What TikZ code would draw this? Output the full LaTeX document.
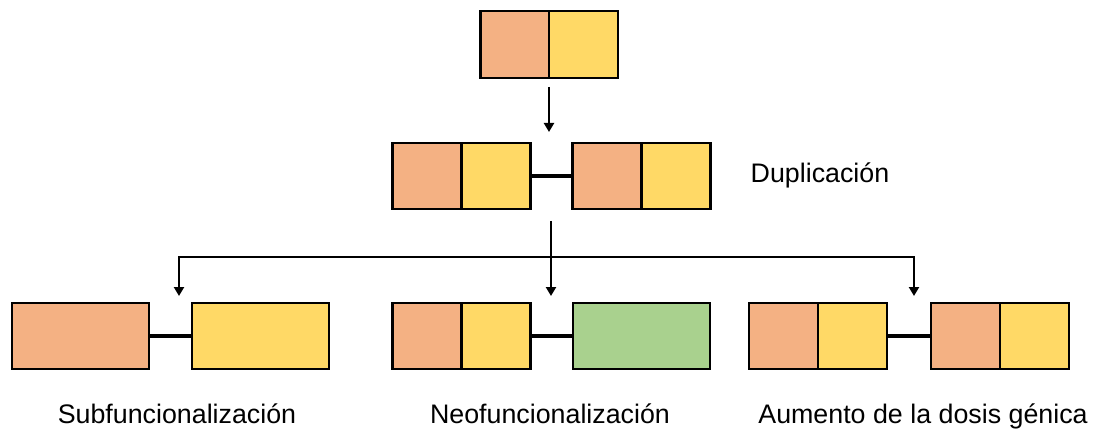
\documentclass[tikz,border=0pt]{standalone}
\usepackage{fontspec}
\setmainfont{Liberation Sans}
\usetikzlibrary{arrows.meta}
\definecolor{cor}{HTML}{F4B183}
\definecolor{cye}{HTML}{FFD966}
\definecolor{cgr}{HTML}{A9D18E}
\tikzset{
  gbox/.style={draw=black, line width=2.2pt, minimum height=66pt, inner sep=0pt, outer sep=0pt},
  half/.style={gbox, minimum width=69pt},
  full/.style={gbox, minimum width=137pt},
  link/.style={line width=3.5pt},
  arr/.style={line width=2.6pt, -{Triangle[length=9pt,width=10pt]}},
  trunk/.style={line width=2.6pt},
  lbl/.style={font=\fontsize{26.8}{32}\selectfont, anchor=base, inner sep=0pt}
}
\begin{document}
\begin{tikzpicture}[x=1pt,y=-1pt]
\useasboundingbox (0,0) rectangle (1096,433);
% top
\node[half, fill=cor, minimum height=67pt] (t1) at (515,44.5) {};
\node[half, fill=cye, minimum height=67pt] (t2) at (583.5,44.5) {};
% row 2
\node[half, fill=cor] (a1) at (427,176) {};
\node[half, fill=cye] (a2) at (496,176) {};
\node[half, fill=cor] (a3) at (607,176) {};
\node[half, fill=cye] (a4) at (676,176) {};
\draw[link] (a2.east) -- (a3.west);
\node[lbl, anchor=center] (dup) at (820,175) {Duplicación};
% row 3 left
\node[full, fill=cor] (s1) at (80.5,336) {};
\node[full, fill=cye] (s2) at (260.5,336) {};
\draw[link] (s1.east) -- (s2.west);
% row 3 middle
\node[half, fill=cor] (n1) at (427,336) {};
\node[half, fill=cye] (n2) at (496,336) {};
\node[full, fill=cgr] (n3) at (641.5,336) {};
\draw[link] (n2.east) -- (n3.west);
% row 3 right
\node[half, fill=cor] (d1) at (783.5,336) {};
\node[half, fill=cye] (d2) at (852.5,336) {};
\node[half, fill=cor] (d3) at (965.5,336) {};
\node[half, fill=cye] (d4) at (1034.5,336) {};
\draw[link] (d2.east) -- (d3.west);
% arrows
\coordinate (c0) at (549,87);
\coordinate (c1) at (549,132);
\draw[arr] (c0) -- (c1);
\coordinate (b0) at (551,221);
\coordinate (b1) at (551,257);
\coordinate (bl) at (179,257);
\coordinate (br) at (914,257);
\coordinate (el) at (179,296);
\coordinate (em) at (551,296);
\coordinate (er) at (914,296);
\draw[trunk] (b0) -- (b1);
\draw[trunk, line cap=rect] (bl) -- (br);
\draw[arr] (bl) -- (el);
\draw[arr] (b1) -- (em);
\draw[arr] (br) -- (er);
% labels
\node[lbl] (l1) at (177,423) {Subfuncionalización};
\node[lbl] (l2) at (550,423) {Neofuncionalización};
\node[lbl] (l3) at (923,423) {Aumento de la dosis génica};
\end{tikzpicture}
\end{document}
